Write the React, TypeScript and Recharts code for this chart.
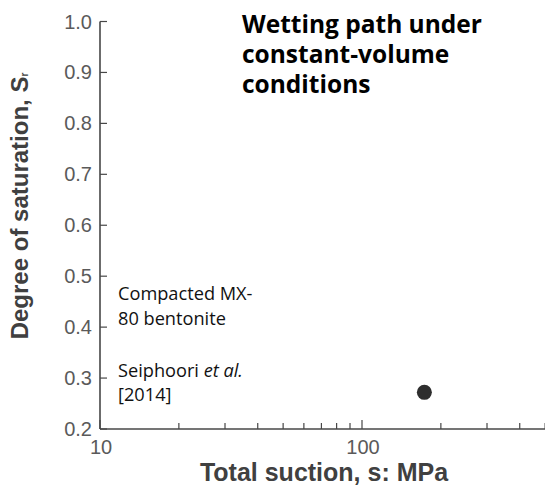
import React from "react";
import { ScatterChart, Scatter, XAxis, YAxis, Customized } from "recharts";

// ---- data ----
const SUCTION_MPA = [173];
const SATURATION = [0.272];
const X_TICKS = [10, 20, 30, 40, 50, 60, 70, 80, 90, 100, 200, 300, 400, 500, 600, 700, 800, 900, 1000];
const X_MAJOR = [10, 100, 1000];
const X_LABELS = [10, 100];
const Y_TICKS = [0.2, 0.3, 0.4, 0.5, 0.6, 0.7, 0.8, 0.9, 1.0];
const TITLE_LINES = ["Wetting path under", "constant-volume", "conditions"];
const NOTE_LINES = ["Compacted MX-", "80 bentonite"];
const X_TITLE = "Total suction, s: MPa";
const Y_TITLE = "Degree of saturation, S";

const points = SUCTION_MPA.map((s, i) => ({ s, sr: SATURATION[i] }));

const AXIS = "#474747";
const TICK_TEXT = "#5a5a5a";
const TITLE_TEXT = "#404040";

const XTick = (props: any) => {
  const { x, y, payload } = props;
  const v = payload.value;
  const major = X_MAJOR.includes(v);
  return (
    <g>
      <line x1={x} x2={x} y1={y} y2={y - (major ? 9 : 6)} stroke={AXIS} strokeWidth={1.2} />
      {X_LABELS.includes(v) && (
        <text x={x + 1} y={y + 25} textAnchor="middle" fill={TICK_TEXT} fontSize={20} fontFamily="'Liberation Sans', Arial, sans-serif">
          {v}
        </text>
      )}
    </g>
  );
};

const YTick = (props: any) => {
  const { x, y, payload } = props;
  const v = payload.value;
  return (
    <g>
      <line x1={x} x2={x + 7} y1={y} y2={y} stroke={AXIS} strokeWidth={1.2} />
      <text x={x - 8} y={y + 7} textAnchor="end" fill={TICK_TEXT} fontSize={20} fontFamily="'Liberation Sans', Arial, sans-serif">
        {Number(v).toFixed(1)}
      </text>
    </g>
  );
};

const Annotations = () => (
  <g>
    <text fontFamily="'Open Sans', 'Noto Sans', sans-serif" fontWeight="bold" fontSize={24.5} fill="#000">
      {TITLE_LINES.map((t, i) => (
        <tspan key={i} x={242} y={33 + i * 30}>
          {t}
        </tspan>
      ))}
    </text>
    <text fontFamily="'Open Sans', 'Noto Sans', sans-serif" fontSize={18.2} fill="#111">
      {NOTE_LINES.map((t, i) => (
        <tspan key={i} x={118} y={300 + i * 25}>
          {t}
        </tspan>
      ))}
      <tspan x={118} y={377}>Seiphoori </tspan>
      <tspan fontStyle="italic">et al.</tspan>
      <tspan x={118} y={401}>[2014]</tspan>
    </text>
    <text x={324} y={481} textAnchor="middle" fontFamily="'Liberation Sans', Arial, sans-serif" fontWeight="bold" fontSize={25} fill={TITLE_TEXT}>
      {X_TITLE}
    </text>
    <text
      transform="translate(28, 206) rotate(-90)"
      textAnchor="middle"
      fontFamily="'Liberation Sans', Arial, sans-serif"
      fontWeight="bold"
      fontSize={24}
      fill={TITLE_TEXT}
    >
      {Y_TITLE}
      <tspan fontSize={10}>r</tspan>
    </text>
  </g>
);

export default function App() {
  return (
    <div style={{ position: "fixed", left: 0, top: 0, width: 545, height: 489, overflow: "hidden", background: "#fff" }}>
      <ScatterChart width={650} height={489} margin={{ top: 21.5, right: 26, bottom: 0, left: 40 }}>
        <XAxis
          dataKey="s"
          type="number"
          scale="log"
          domain={[10, 1000]}
          ticks={X_TICKS}
          interval={0}
          allowDataOverflow
          height={60}
          tickSize={0}
          tickMargin={0}
          tickLine={false}
          axisLine={{ stroke: AXIS, strokeWidth: 1.6 }}
          tick={<XTick />}
        />
        <YAxis
          dataKey="sr"
          type="number"
          domain={[0.2, 1.0]}
          ticks={Y_TICKS}
          interval={0}
          allowDataOverflow
          width={60}
          tickSize={0}
          tickMargin={0}
          tickLine={false}
          axisLine={{ stroke: AXIS, strokeWidth: 1.6 }}
          tick={<YTick />}
        />
        <Scatter
          data={points}
          isAnimationActive={false}
          shape={(p: any) => <circle cx={p.cx} cy={p.cy} r={7.5} fill="#2e2e2e" />}
        />
        <Customized component={<Annotations />} />
      </ScatterChart>
    </div>
  );
}
